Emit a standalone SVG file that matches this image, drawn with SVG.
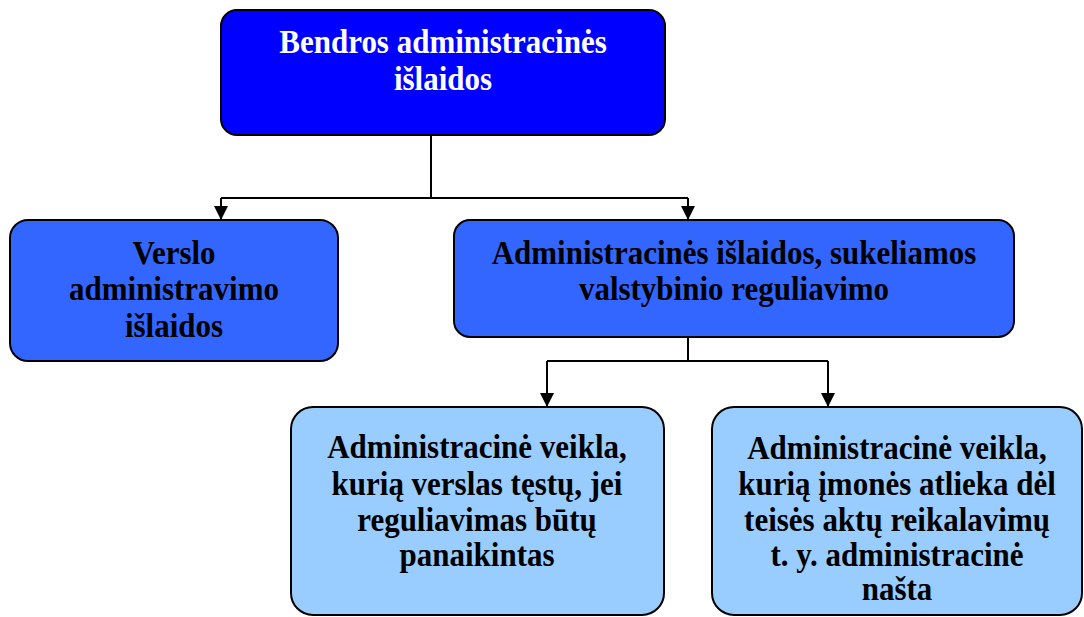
<svg xmlns="http://www.w3.org/2000/svg" width="1084" height="617" viewBox="0 0 1084 617">
<style>
.box{stroke:#000;stroke-width:2}
.l1{fill:#0000FF}
.l2{fill:#3366FF}
.l3{fill:#99CCFF}
text{font-family:"Liberation Serif","Times New Roman",serif;font-weight:bold;font-size:31px;text-anchor:middle}
.w{fill:#fff}
.k{fill:#000}
.c{fill:none;stroke:#000;stroke-width:2}
</style>
<defs>
<marker id="arr" markerWidth="14" markerHeight="14" refX="14" refY="7" orient="auto" markerUnits="userSpaceOnUse">
<path d="M0,0 L14,7 L0,14 Z" fill="#000"/>
</marker>
</defs>
<g id="connectors">
<path class="c" d="M431,127 V198"/>
<path class="c" d="M221,198 H688"/>
<path class="c" d="M221,198 V220" marker-end="url(#arr)"/>
<path class="c" d="M688,198 V220" marker-end="url(#arr)"/>
<path class="c" d="M688,337 V361"/>
<path class="c" d="M547,361 H828"/>
<path class="c" d="M547,361 V407" marker-end="url(#arr)"/>
<path class="c" d="M828,361 V407" marker-end="url(#arr)"/>
</g>
<g id="n_top">
<rect class="box l1" x="221" y="10" width="444" height="125" rx="16"/>
<text class="w" transform="translate(443,53) scale(1,1.08)">Bendros administracinės</text>
<text class="w" transform="translate(443,90) scale(1,1.08)">išlaidos</text>
</g>
<g id="n_verslo">
<rect class="box l2" x="10" y="220" width="328" height="141" rx="18"/>
<text class="k" transform="translate(174,264) scale(1,1.08)">Verslo</text>
<text class="k" transform="translate(174,300) scale(1,1.08)">administravimo</text>
<text class="k" transform="translate(174,337) scale(1,1.08)">išlaidos</text>
</g>
<g id="n_valst">
<rect class="box l2" x="454" y="220" width="560" height="117" rx="16"/>
<text class="k" transform="translate(734,264) scale(1,1.08)">Administracinės išlaidos, sukeliamos</text>
<text class="k" transform="translate(734,300) scale(1,1.08)">valstybinio reguliavimo</text>
</g>
<g id="n_testu">
<rect class="box l3" x="291" y="407" width="373" height="208" rx="22"/>
<text class="k" transform="translate(477,458) scale(1,1.08)">Administracinė veikla,</text>
<text class="k" transform="translate(477,495) scale(1,1.08)">kurią verslas tęstų, jei</text>
<text class="k" transform="translate(477,531) scale(1,1.08)">reguliavimas būtų</text>
<text class="k" transform="translate(477,566) scale(1,1.08)">panaikintas</text>
</g>
<g id="n_nasta">
<rect class="box l3" x="712" y="407" width="370" height="208" rx="22"/>
<text class="k" transform="translate(897,459) scale(1,1.08)">Administracinė veikla,</text>
<text class="k" transform="translate(897,495) scale(1,1.08)">kurią įmonės atlieka dėl</text>
<text class="k" transform="translate(897,531) scale(1,1.08)">teisės aktų reikalavimų</text>
<text class="k" transform="translate(897,566) scale(1,1.08)">t. y. administracinė</text>
<text class="k" transform="translate(897,600) scale(1,1.08)">našta</text>
</g>
</svg>
